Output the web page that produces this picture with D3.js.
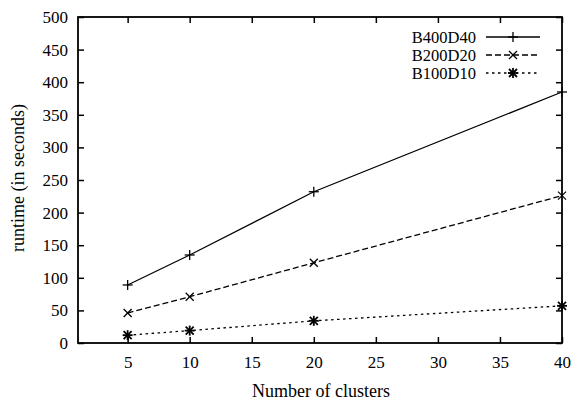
<!DOCTYPE html>
<html>
<head>
<meta charset="utf-8">
<script src="https://cdn.jsdelivr.net/npm/d3@7"></script>
<style>
  body { margin: 0; background: #fff; }
  text { font-family: "Liberation Serif", "DejaVu Serif", serif; fill: #000; }
</style>
</head>
<body>
<div id="chart"></div>
<script>
// data
var clusters = [5, 10, 20, 40];
var seriesNames = ["B400D40", "B200D20", "B100D10"];
var b400d40 = [89, 135, 232, 385];
var b200d20 = [46, 71, 123, 226];
var b100d10 = [12, 19, 34, 57];
var xTicks = [5, 10, 15, 20, 25, 30, 35, 40];
var yTicks = [0, 50, 100, 150, 200, 250, 300, 350, 400, 450, 500];

var W = 571, H = 403;
// plot box edges (window.top is reserved, so prefixed names)
var pLeft = 78, pRight = 562, pTop = 17, pBottom = 343;

var svg = d3.select("#chart").append("svg")
    .attr("width", W).attr("height", H);

var x = d3.scaleLinear().domain([1, 40]).range([pLeft, pRight]);
var y = d3.scaleLinear().domain([0, 500]).range([pBottom, pTop]);

// ticks on all four sides, pointing inwards
var tl = 6;
var axB = svg.append("g").attr("transform", "translate(0," + pBottom + ")")
    .call(d3.axisBottom(x).tickValues(xTicks).tickSize(-tl).tickPadding(13));
var axT = svg.append("g").attr("transform", "translate(0," + pTop + ")")
    .call(d3.axisTop(x).tickValues(xTicks).tickSize(-tl).tickFormat(""));
var axL = svg.append("g").attr("transform", "translate(" + pLeft + ",0)")
    .call(d3.axisLeft(y).tickValues(yTicks).tickSize(-tl).tickPadding(10));
var axR = svg.append("g").attr("transform", "translate(" + pRight + ",0)")
    .call(d3.axisRight(y).tickValues(yTicks).tickSize(-tl).tickFormat(""));

[axB, axT, axL, axR].forEach(function (g) {
    g.select(".domain").remove();
    g.selectAll(".tick line").attr("stroke", "#000").attr("stroke-width", 1.5);
    g.selectAll("text").style("font-size", "17px")
        .style("font-family", "'Liberation Serif', serif").attr("fill", "#000");
});

svg.append("rect")
    .attr("x", pLeft).attr("y", pTop)
    .attr("width", pRight - pLeft).attr("height", pBottom - pTop)
    .attr("fill", "none").attr("stroke", "#000").attr("stroke-width", 1.8);

// axis titles
svg.append("text")
    .attr("x", 321).attr("y", 397)
    .attr("text-anchor", "middle").style("font-size", "18px")
    .text("Number of clusters");
svg.append("text")
    .attr("transform", "translate(24,178) rotate(-90)")
    .attr("text-anchor", "middle").style("font-size", "18px")
    .text("runtime (in seconds)");

var series = [
    { name: seriesNames[0], values: b400d40, dash: null, sym: "plus" },
    { name: seriesNames[1], values: b200d20, dash: "6,3", sym: "cross" },
    { name: seriesNames[2], values: b100d10, dash: "2.5,3.5", sym: "star" }
];

function drawSymbol(g, type, cx, cy) {
    var s = 5, d = 4;
    var segs = [];
    if (type === "plus" || type === "star") {
        segs.push([cx - s, cy, cx + s, cy], [cx, cy - s, cx, cy + s]);
    }
    if (type === "cross" || type === "star") {
        segs.push([cx - d, cy - d, cx + d, cy + d], [cx - d, cy + d, cx + d, cy - d]);
    }
    segs.forEach(function (p) {
        g.append("line")
            .attr("x1", p[0]).attr("y1", p[1]).attr("x2", p[2]).attr("y2", p[3])
            .attr("stroke", "#000").attr("stroke-width", type === "star" ? 1.8 : 1.3);
    });
}

var line = d3.line()
    .x(function (d, i) { return x(clusters[i]); })
    .y(function (d) { return y(d); });

series.forEach(function (s) {
    var g = svg.append("g");
    g.append("path")
        .attr("d", line(s.values))
        .attr("fill", "none").attr("stroke", "#000").attr("stroke-width", 1.3)
        .attr("stroke-dasharray", s.dash);
    s.values.forEach(function (v, i) {
        drawSymbol(g, s.sym, x(clusters[i]), y(v));
    });
});

// legend
var legY = [37, 55, 73];
series.forEach(function (s, i) {
    var g = svg.append("g");
    g.append("text")
        .attr("x", 476).attr("y", legY[i]).attr("dy", "0.35em")
        .attr("text-anchor", "end").style("font-size", "16.5px")
        .text(s.name);
    g.append("line")
        .attr("x1", 486).attr("x2", 540).attr("y1", legY[i]).attr("y2", legY[i])
        .attr("stroke", "#000").attr("stroke-width", 1.3)
        .attr("stroke-dasharray", s.dash);
    drawSymbol(g, s.sym, 513, legY[i]);
});
</script>
</body>
</html>
